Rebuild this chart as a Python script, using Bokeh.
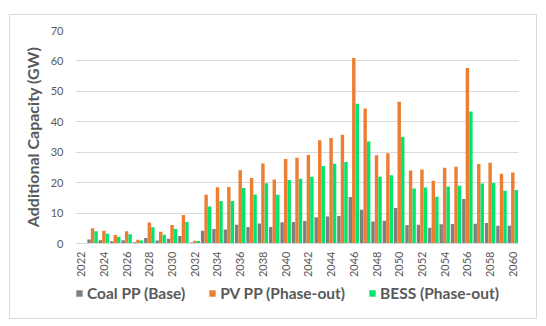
import math
from bokeh.plotting import figure
from bokeh.layouts import column
from bokeh.models import ColumnDataSource, FixedTicker, Legend, LegendItem, Range1d
from bokeh.transform import dodge
from bokeh.embed import file_html
from bokeh.resources import INLINE

years = list(range(2022, 2061))
coal = [0, 1.35, 1.1, 0.7, 1.1, 0.4, 1.8, 1.0, 1.6, 2.5, 0.3, 4.2, 4.75, 4.6, 6.2, 5.4, 6.6, 5.4, 7.0, 7.1,
        7.4, 8.6, 8.9, 9.0, 15.3, 11.1, 7.2, 7.5, 11.7, 6.1, 6.2, 5.2, 6.3, 6.4, 14.6, 6.5, 6.7, 5.8, 5.8]
pv = [0, 5.0, 4.2, 2.8, 4.0, 1.2, 6.9, 3.9, 6.1, 9.4, 0.9, 16.0, 18.5, 18.6, 24.1, 21.5, 26.3, 21.0, 27.8, 28.2,
      29.1, 33.9, 34.7, 35.7, 61.0, 44.4, 29.0, 29.7, 46.6, 24.0, 24.3, 20.6, 24.9, 25.2, 57.7, 26.1, 26.5, 22.9, 23.3]
bess = [0, 4.0, 3.2, 2.2, 3.0, 1.0, 5.3, 2.9, 4.75, 7.1, 0.8, 12.2, 14.0, 14.0, 18.2, 16.1, 19.8, 16.0, 20.9, 21.3,
        21.9, 25.5, 26.2, 26.8, 45.9, 33.5, 21.9, 22.4, 35.0, 18.1, 18.4, 15.4, 18.7, 19.0, 43.4, 19.7, 19.9, 17.3, 17.6]
series_names = ["Coal PP (Base)", "PV PP (Phase-out)", "BESS (Phase-out)"]
series_colors = ["#7F7F7F", "#ED7D31", "#00E56B"]
tick_years = list(range(2022, 2061, 2))
y_ticks = list(range(0, 71, 10))

src = ColumnDataSource(dict(year=years, coal=coal, pv=pv, bess=bess))

FONT = "Lato"
GREY = "#595959"

p = figure(width=526, height=269, output_backend="svg", toolbar_location=None,
           x_range=Range1d(2021.5, 2060.5), y_range=Range1d(0, 70),
           min_border_left=65, min_border_right=18, min_border_top=15, min_border_bottom=41)
p.outline_line_color = None
p.xgrid.grid_line_color = None
p.ygrid.grid_line_color = "#D9D9D9"
p.ygrid.grid_line_width = 1.2

bw = 0.31
r1 = p.vbar(x=dodge("year", -bw), top="coal", width=bw * 0.97, source=src,
            fill_color=series_colors[0], line_color=None)
r2 = p.vbar(x=dodge("year", 0), top="pv", width=bw * 0.97, source=src,
            fill_color=series_colors[1], line_color=None)
r3 = p.vbar(x=dodge("year", bw), top="bess", width=bw * 0.97, source=src,
            fill_color=series_colors[2], line_color=None)

# x axis
xa = p.xaxis[0]
xa.ticker = FixedTicker(ticks=tick_years)
xa.major_label_orientation = math.pi / 2
xa.major_tick_line_color = None
xa.minor_tick_line_color = None
xa.major_tick_out = 0
xa.major_tick_in = 0
xa.minor_tick_out = 0
xa.axis_line_color = "#D9D9D9"
xa.axis_line_width = 1.2
xa.major_label_text_font = FONT
xa.major_label_text_font_size = "11px"
xa.major_label_text_color = GREY
xa.major_label_standoff = 8

# y axis
ya = p.yaxis[0]
ya.ticker = FixedTicker(ticks=y_ticks)
ya.major_tick_line_color = None
ya.minor_tick_line_color = None
ya.major_tick_out = 0
ya.major_tick_in = 0
ya.minor_tick_out = 0
ya.axis_line_color = None
ya.major_label_text_font = FONT
ya.major_label_text_font_size = "11px"
ya.major_label_text_color = GREY
ya.major_label_standoff = 12
ya.axis_label = "Additional Capacity (GW)"
ya.axis_label_text_font = FONT
ya.axis_label_text_font_size = "16px"
ya.axis_label_text_font_style = "bold"
ya.axis_label_text_color = GREY
ya.axis_label_standoff = 6

# legend in its own strip below the chart
pl = figure(width=526, height=34, output_backend="svg", toolbar_location=None,
            x_range=Range1d(0, 1), y_range=Range1d(0, 1),
            min_border=0, min_border_left=51, min_border_right=0, min_border_top=0, min_border_bottom=0)
pl.axis.visible = False
pl.grid.visible = False
pl.outline_line_color = None
l1 = pl.rect(x=[-5], y=[-5], width=0.1, height=0.1, fill_color=series_colors[0], line_color=None)
l2 = pl.rect(x=[-5], y=[-5], width=0.1, height=0.1, fill_color=series_colors[1], line_color=None)
l3 = pl.rect(x=[-5], y=[-5], width=0.1, height=0.1, fill_color=series_colors[2], line_color=None)

legend = Legend(items=[LegendItem(label=series_names[0], renderers=[l1]),
                       LegendItem(label=series_names[1], renderers=[l2]),
                       LegendItem(label=series_names[2], renderers=[l3])],
                orientation="horizontal", location="top_left",
                label_text_font=FONT, label_text_font_size="15.5px", label_text_font_style="bold",
                label_text_color=GREY, glyph_width=8, glyph_height=8, spacing=23,
                label_standoff=4, border_line_color=None, background_fill_alpha=0,
                padding=1, margin=0)
pl.add_layout(legend)

layout = column(p, pl, spacing=0,
                styles={"border": "1px solid #D9D9D9", "margin-left": "9px", "margin-top": "14px"})

open("out.html", "w").write(file_html(layout, INLINE))
